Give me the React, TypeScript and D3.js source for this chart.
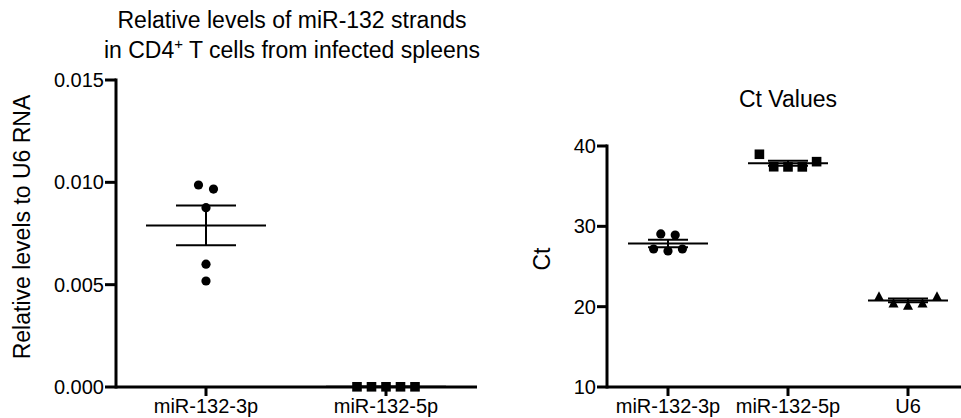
import React from "react";
import * as d3 from "d3";

// ---------- data ----------
const leftCategories = ["miR-132-3p", "miR-132-5p"];
const rel3p = [0.00987, 0.00967, 0.00876, 0.006, 0.00518];
const rel5p = [0.00001, 0.00001, 0.00001, 0.00001, 0.00001];
const leftTicks = [0, 0.005, 0.01, 0.015];

const ctCategories = ["miR-132-3p", "miR-132-5p", "U6"];
const ct3p = [27.18, 29.05, 26.93, 28.92, 27.18];
const ct5p = [38.97, 37.42, 37.4, 37.4, 38.05];
const ctU6 = [21.33, 20.5, 20.2, 20.5, 21.33];
const ctTicks = [10, 20, 30, 40];

// horizontal spread of symbols (layout, in symbol steps)
const spreadLeft3p = [-1, 1, 0, 0, 0];
const spreadEven = [-2, -1, 0, 1, 2];

const FONT = "'Liberation Sans', Arial, Helvetica, sans-serif";

function mean(a: number[]) {
  return d3.mean(a) as number;
}
function sem(a: number[]) {
  return (d3.deviation(a) as number) / Math.sqrt(a.length);
}

type Shape = "circle" | "square" | "triangle";

function Symbol({ x, y, shape }: { x: number; y: number; shape: Shape }) {
  if (shape === "circle") return <circle cx={x} cy={y} r={4.6} fill="#000" />;
  if (shape === "square")
    return <rect x={x - 4.8} y={y - 4.8} width={9.6} height={9.6} fill="#000" />;
  const h = 9.5;
  const w = 10;
  return (
    <path
      d={`M${x},${y - h / 2} L${x + w / 2},${y + h / 2} L${x - w / 2},${y + h / 2} Z`}
      fill="#000"
    />
  );
}

function Group({
  values,
  cx,
  y,
  step,
  halfMean,
  halfCap,
  spread,
  spacing,
  shape,
}: {
  values: number[];
  cx: number;
  y: (v: number) => number;
  step: number;
  halfMean: number;
  halfCap: number;
  spread: number[];
  spacing: number;
  shape: Shape;
}) {
  const m = mean(values);
  const s = sem(values);
  const ym = y(m);
  const yh = y(m + s);
  const yl = y(m - s);
  return (
    <g>
      <line x1={cx - halfMean} x2={cx + halfMean} y1={ym} y2={ym} stroke="#000" strokeWidth={2} />
      <line x1={cx} x2={cx} y1={yh} y2={yl} stroke="#000" strokeWidth={2} />
      <line x1={cx - halfCap} x2={cx + halfCap} y1={yh} y2={yh} stroke="#000" strokeWidth={2} />
      <line x1={cx - halfCap} x2={cx + halfCap} y1={yl} y2={yl} stroke="#000" strokeWidth={2} />
      {values.map((v, i) => (
        <Symbol key={i} x={cx + spread[i] * spacing} y={y(v)} shape={shape} />
      ))}
    </g>
  );
}

export default function App() {
  // left panel
  const yL = d3.scaleLinear().domain([0, 0.015]).range([387, 80]);
  const xL = d3.scaleBand<string>().domain(leftCategories).range([116, 476]);
  const stepL = xL.step();
  const cL = (c: string) => (xL(c) as number) + xL.bandwidth() / 2;

  // right panel
  const yR = d3.scaleLinear().domain([10, 40]).range([387, 146]);
  const xR = d3.scaleBand<string>().domain(ctCategories).range([608, 968]);
  const stepR = xR.step();
  const cR = (c: string) => (xR(c) as number) + xR.bandwidth() / 2;

  const fmtL = d3.format(".3f");

  return (
    <svg
      width={961}
      height={418}
      style={{ position: "absolute", left: 0, top: 0, background: "#fff" }}
      fontFamily={FONT}
    >
      <rect width={961} height={418} fill="#fff" />

      {/* ---------- left panel ---------- */}
      <text x={292} y={28} fontSize={23} textAnchor="middle">
        Relative levels of miR-132 strands
      </text>
      <text x={292} y={58} fontSize={23} textAnchor="middle">
        in CD4
        <tspan fontSize={15} dy={-9}>
          +
        </tspan>
        <tspan dy={9}> T cells from infected spleens</tspan>
      </text>

      <text transform="translate(30,227) rotate(-90)" fontSize={23} textAnchor="middle">
        Relative levels to U6 RNA
      </text>

      {/* y axis */}
      <line x1={116} x2={116} y1={yL(0.015) - 1.5} y2={yL(0) + 1.5} stroke="#000" strokeWidth={3} />
      {leftTicks.map((t) => (
        <g key={t}>
          <line x1={105} x2={116} y1={yL(t)} y2={yL(t)} stroke="#000" strokeWidth={3} />
          <text x={104} y={yL(t)} dy="0.35em" fontSize={20} textAnchor="end">
            {fmtL(t)}
          </text>
        </g>
      ))}
      {/* x axis */}
      <line x1={116} x2={477} y1={yL(0)} y2={yL(0)} stroke="#000" strokeWidth={3} />
      {leftCategories.map((c) => (
        <g key={c}>
          <line x1={cL(c)} x2={cL(c)} y1={yL(0)} y2={yL(0) + 9} stroke="#000" strokeWidth={3} />
          <text x={cL(c)} y={413} fontSize={20} textAnchor="middle">
            {c}
          </text>
        </g>
      ))}

      <Group
        values={rel3p}
        cx={cL(leftCategories[0])}
        y={yL}
        step={stepL}
        halfMean={stepL / 3}
        halfCap={stepL / 6}
        spread={spreadLeft3p}
        spacing={7.5}
        shape="circle"
      />
      <Group
        values={rel5p}
        cx={cL(leftCategories[1])}
        y={yL}
        step={stepL}
        halfMean={stepL / 3}
        halfCap={stepL / 6}
        spread={spreadEven}
        spacing={14.5}
        shape="square"
      />

      {/* ---------- right panel ---------- */}
      <text x={788} y={107} fontSize={23} textAnchor="middle">
        Ct Values
      </text>
      <text transform="translate(550,259) rotate(-90)" fontSize={23} textAnchor="middle">
        Ct
      </text>

      <line x1={607} x2={607} y1={yR(40) - 1.5} y2={yR(10) + 1.5} stroke="#000" strokeWidth={3} />
      {ctTicks.map((t) => (
        <g key={t}>
          <line x1={597} x2={607} y1={yR(t)} y2={yR(t)} stroke="#000" strokeWidth={3} />
          <text x={596} y={yR(t)} dy="0.35em" fontSize={20} textAnchor="end">
            {t}
          </text>
        </g>
      ))}
      <line x1={607} x2={961} y1={yR(10)} y2={yR(10)} stroke="#000" strokeWidth={3} />
      {ctCategories.map((c) => (
        <g key={c}>
          <line x1={cR(c)} x2={cR(c)} y1={yR(10)} y2={yR(10) + 9} stroke="#000" strokeWidth={3} />
          <text x={cR(c)} y={413} fontSize={20} textAnchor="middle">
            {c}
          </text>
        </g>
      ))}

      <Group
        values={ct3p}
        cx={cR(ctCategories[0])}
        y={yR}
        step={stepR}
        halfMean={stepR / 3}
        halfCap={stepR / 6}
        spread={spreadEven}
        spacing={7.2}
        shape="circle"
      />
      <Group
        values={ct5p}
        cx={cR(ctCategories[1])}
        y={yR}
        step={stepR}
        halfMean={stepR / 3}
        halfCap={stepR / 6}
        spread={spreadEven}
        spacing={14.3}
        shape="square"
      />
      <Group
        values={ctU6}
        cx={cR(ctCategories[2])}
        y={yR}
        step={stepR}
        halfMean={stepR / 3}
        halfCap={stepR / 6}
        spread={spreadEven}
        spacing={14.5}
        shape="triangle"
      />
    </svg>
  );
}
